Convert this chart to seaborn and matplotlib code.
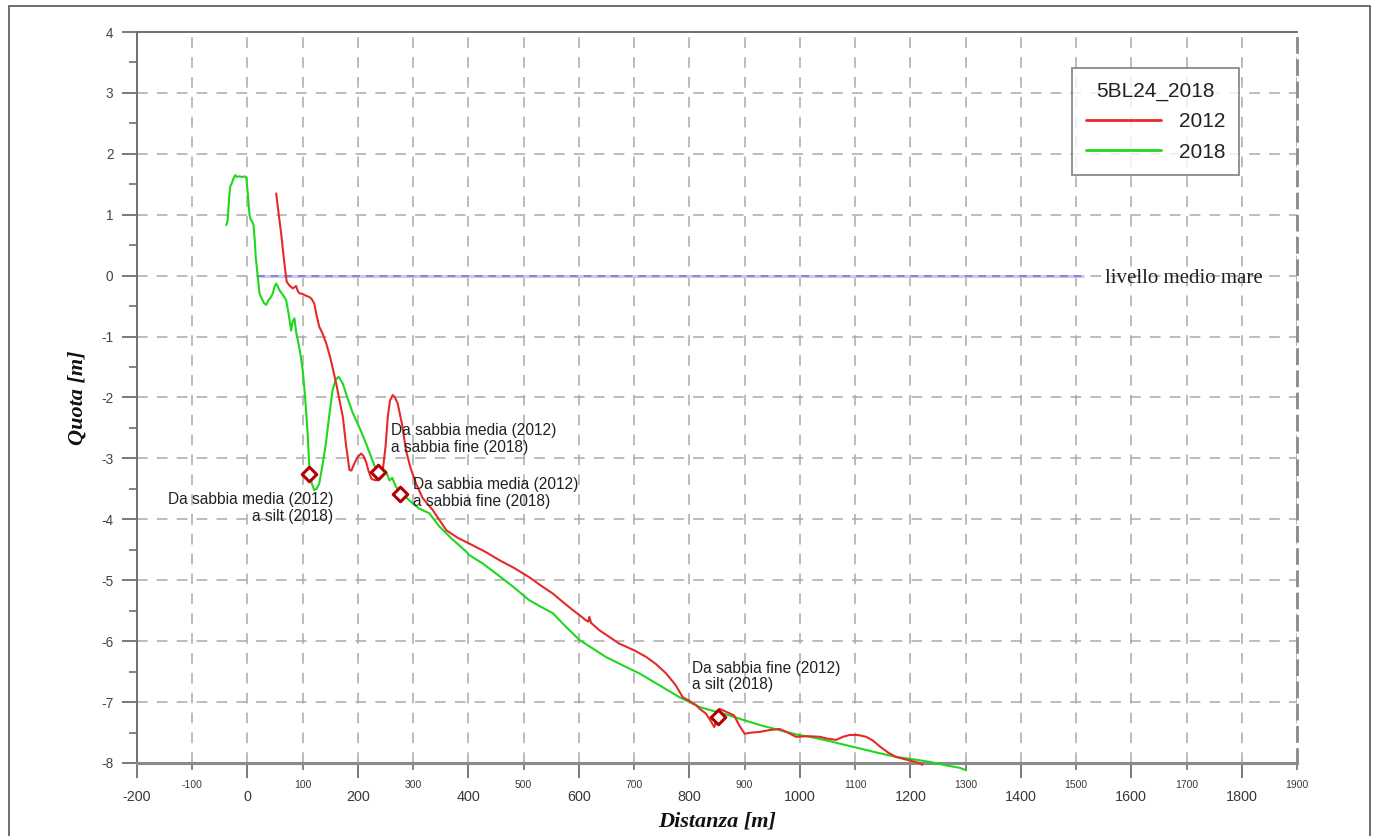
import matplotlib
matplotlib.use("Agg")
import matplotlib.pyplot as plt
import seaborn as sns
import pandas as pd
import numpy as np
from matplotlib.patches import Rectangle
from matplotlib.ticker import MultipleLocator, FixedLocator, FixedFormatter

# ---------------- data ----------------
dist_2018 = [-38.5, -36, -33, -31, -29, -26, -22, -19, -15, -10, -5, -2, 1, 3.6, 6, 9, 11, 13, 15,
             18.7, 21.7, 26, 30, 33.8, 38, 42, 45.9, 49, 52, 55, 58, 63, 70, 74, 79, 82, 85, 88,
             92, 96, 100, 103, 106, 109, 112, 116, 121, 125, 130, 136, 142, 148, 154, 160, 165,
             172.5, 180, 190.8, 203, 214.9, 224, 233, 240, 246, 251, 257, 262, 269, 280, 293,
             310, 329, 347.6, 370, 396, 402, 425, 450, 480, 510.5, 530, 552.7, 575, 601, 625,
             649, 680, 709.6, 745, 782, 800, 818, 845, 873, 900, 933, 963, 993, 1023, 1053.6,
             1080, 1108, 1140, 1174, 1205, 1234.6, 1265, 1290, 1301]
quota_2018 = [0.83, 0.9, 1.3, 1.47, 1.5, 1.58, 1.65, 1.62, 1.63, 1.62, 1.63, 1.6, 1.3, 1.0, 0.92,
              0.88, 0.83, 0.6, 0.3, -0.02, -0.29, -0.38, -0.45, -0.48, -0.4, -0.36, -0.29, -0.18,
              -0.13, -0.18, -0.24, -0.3, -0.40, -0.6, -0.9, -0.75, -0.7, -0.92, -1.1, -1.3, -1.55,
              -1.85, -2.2, -2.6, -3.14, -3.4, -3.52, -3.5, -3.41, -3.1, -2.75, -2.3, -1.88, -1.7,
              -1.66, -1.77, -1.98, -2.26, -2.5, -2.76, -2.98, -3.19, -3.24, -3.2, -3.22, -3.36,
              -3.32, -3.47, -3.58, -3.69, -3.82, -3.9, -4.12, -4.32, -4.53, -4.59, -4.72, -4.89,
              -5.1, -5.33, -5.43, -5.54, -5.75, -5.98, -6.12, -6.26, -6.4, -6.53, -6.72, -6.92,
              -7.0, -7.08, -7.15, -7.22, -7.3, -7.39, -7.46, -7.53, -7.58, -7.64, -7.7, -7.76,
              -7.83, -7.9, -7.94, -7.98, -8.04, -8.08, -8.12]

dist_2012 = [52, 56, 61, 65, 69, 71, 76, 82, 85, 88, 91, 94, 100, 106, 112, 116, 121, 125, 130,
             136, 142.5, 150, 160.6, 172.7, 178, 184.6, 188, 193.7, 200, 205.8, 210, 214.8, 219,
             224, 228, 233, 239, 245, 250, 254, 258, 263, 267, 272, 280, 287, 295, 305, 317,
             335.6, 360, 380, 402, 430, 456, 483, 510, 530, 553, 570, 589, 605, 613, 617, 619,
             622, 637, 655, 673, 700, 722, 740, 758, 775, 788, 800, 812, 820, 830, 838, 845, 849,
             854, 862, 869, 881, 890, 900, 913, 927, 945, 963, 978, 993, 1015, 1036, 1050, 1066,
             1078, 1090, 1105, 1120, 1132, 1145, 1160, 1174, 1195, 1216, 1222]
quota_2012 = [1.35, 1.05, 0.69, 0.35, 0.04, -0.1, -0.16, -0.21, -0.19, -0.17, -0.25, -0.29, -0.3,
              -0.33, -0.35, -0.38, -0.46, -0.65, -0.84, -0.95, -1.11, -1.35, -1.77, -2.32, -2.75,
              -3.19, -3.2, -3.08, -2.97, -2.92, -2.96, -3.06, -3.2, -3.33, -3.35, -3.36, -3.3,
              -3.19, -2.8, -2.32, -2.05, -1.96, -2.0, -2.10, -2.45, -2.87, -3.15, -3.41, -3.65,
              -3.85, -4.18, -4.3, -4.4, -4.53, -4.67, -4.8, -4.95, -5.08, -5.22, -5.35, -5.49,
              -5.6, -5.66, -5.68, -5.6, -5.7, -5.82, -5.93, -6.04, -6.15, -6.26, -6.38, -6.53,
              -6.72, -6.92, -6.98, -7.05, -7.12, -7.19, -7.3, -7.41, -7.3, -7.11, -7.14, -7.17,
              -7.22, -7.38, -7.52, -7.5, -7.49, -7.46, -7.44, -7.5, -7.57, -7.56, -7.57, -7.6,
              -7.62, -7.57, -7.54, -7.54, -7.57, -7.63, -7.73, -7.83, -7.9, -7.95, -8.0, -8.03]

sea_dist = [18, 1515]
sea_quota = [0, 0]

marker_dist = [112, 236, 276, 851]
marker_quota = [-3.25, -3.22, -3.58, -7.24]

annot_texts = ["Da sabbia media (2012)\na sabbia fine (2018)",
               "Da sabbia media (2012)\na sabbia fine (2018)",
               "Da sabbia media (2012)\na silt (2018)",
               "Da sabbia fine (2012)\na silt (2018)"]
annot_x = [259, 300.5, 155.7, 805.6]
annot_y = [-2.68, -3.57, -3.81, -6.58]
annot_ha = ["left", "left", "right", "left"]

major_xticks = list(range(-200, 1801, 200))
minor_xticks = list(range(-100, 1901, 200))
yticks = list(range(-8, 5))

legend_title = "5BL24_2018"
series_labels = ["2012", "2018"]
col_2012 = "#e52a2a"
col_2018 = "#1ed81e"

# ---------------- figure ----------------
sns.set_style("white")
plt.rcParams['font.family'] = ['Liberation Sans', 'DejaVu Sans']
plt.rcParams['axes.unicode_minus'] = False

fig = plt.figure(figsize=(13.78, 8.36), dpi=100)
ax = fig.add_axes([137/1378, 1 - 763/836, (1297-137)/1378, (763-32)/836])

df12 = pd.DataFrame({"Distanza": dist_2012, "Quota": quota_2012})
df18 = pd.DataFrame({"Distanza": dist_2018, "Quota": quota_2018})

# sea level
ax.plot(sea_dist, sea_quota, color="#c8c8f0", lw=2.2, zorder=2, solid_capstyle="butt")
ax.plot(sea_dist, sea_quota, color="#8686d6", lw=1.4, ls=(0, (4, 3)), zorder=2.1)

sns.lineplot(data=df18, x="Distanza", y="Quota", sort=False, estimator=None, ax=ax,
             color=col_2018, lw=1.5, label=series_labels[1], zorder=3)
sns.lineplot(data=df12, x="Distanza", y="Quota", sort=False, estimator=None, ax=ax,
             color=col_2012, lw=1.5, label=series_labels[0], zorder=3.5)
for ln in ax.get_lines():
    if ln.get_label() in series_labels:
        ln.set_clip_on(False)

sns.scatterplot(x=marker_dist, y=marker_quota, marker="D", s=55, facecolor="white",
                edgecolor="#b40000", linewidth=2.2, zorder=6, ax=ax, legend=False)

for t, xx, yy, ha in zip(annot_texts, annot_x, annot_y, annot_ha):
    ax.text(xx, yy, t, ha=ha, va="center", fontsize=11.2, color="#222222",
            linespacing=1.15, zorder=7, multialignment=ha)

ax.text(1553, -0.04, "livello medio mare", family=["Liberation Serif", "DejaVu Serif"],
        fontsize=15, va="center", ha="left", color="#222222", zorder=7)

# axes limits / ticks
ax.set_xlim(-200, 1900)
ax.set_ylim(-8, 4)
ax.xaxis.set_major_locator(FixedLocator(major_xticks))
ax.xaxis.set_minor_locator(FixedLocator(minor_xticks))
ax.xaxis.set_major_formatter(FixedFormatter([str(v) for v in major_xticks]))
ax.xaxis.set_minor_formatter(FixedFormatter([str(v) for v in minor_xticks]))
ax.yaxis.set_major_locator(FixedLocator(yticks))
ax.yaxis.set_minor_locator(MultipleLocator(0.5))

ax.tick_params(axis="x", which="major", length=11, width=1.3, color="#707070",
               pad=8.5, labelsize=10.4, labelcolor="#3a3a3a", direction="out", bottom=True)
ax.tick_params(axis="x", which="minor", length=5, width=1.2, color="#707070",
               pad=7.5, labelsize=7.5, labelcolor="#3a3a3a", direction="out", bottom=True)
ax.tick_params(axis="y", which="major", length=11, width=1.3, color="#707070",
               pad=6, labelsize=9.8, labelcolor="#444444", direction="out", left=True)
ax.tick_params(axis="y", which="minor", length=5.5, width=1.2, color="#707070",
               direction="out", left=True)

ax.grid(True, which="major", axis="both", color="#a9a9a9", lw=1.1, ls=(0, (7, 6)))
ax.grid(True, which="minor", axis="x", color="#a9a9a9", lw=1.1, ls=(0, (7, 6)))
ax.set_axisbelow(True)

for side in ["left", "top"]:
    ax.spines[side].set_color("#707070")
    ax.spines[side].set_linewidth(1.4)
ax.spines["bottom"].set_color("#8a8a8a")
ax.spines["bottom"].set_linewidth(2.2)
ax.spines["right"].set_color("#8a8a8a")
ax.spines["right"].set_linewidth(2.0)
ax.spines["right"].set_linestyle((0, (5, 3)))

ax.set_xlabel("Distanza [m]", family=["Liberation Serif", "DejaVu Serif"], fontsize=16,
              fontweight="bold", fontstyle="italic", color="#111111")
ax.set_ylabel("Quota [m]", family=["Liberation Serif", "DejaVu Serif"], fontsize=16,
              fontweight="bold", fontstyle="italic", color="#111111")
ax.xaxis.set_label_coords(0.5, -0.066)
ax.yaxis.set_label_coords(-0.043, 0.5)

# legend
handles, labels = ax.get_legend_handles_labels()
order = [labels.index(s) for s in series_labels]
leg = ax.legend([handles[i] for i in order], [labels[i] for i in order],
                title=legend_title, loc="upper left", bbox_to_anchor=(0.806, 0.951),
                fontsize=15, title_fontsize=15, frameon=True, fancybox=False,
                edgecolor="#777777", handlelength=3.6, handletextpad=0.9,
                borderpad=0.65, labelspacing=0.55, borderaxespad=0)
leg.get_frame().set_linewidth(1.4)
leg.get_title().set_color("#222222")
for txt in leg.get_texts():
    txt.set_color("#222222")
for h in leg.get_lines():
    h.set_linewidth(2)
leg.set_zorder(10)

# outer frame
fig.patches.append(Rectangle((9/1378, -0.01), (1370-9)/1378, 1.01 - 6/836,
                             transform=fig.transFigure, fill=False,
                             edgecolor="#555555", lw=1.2))

fig.savefig("out.png", dpi=100)
